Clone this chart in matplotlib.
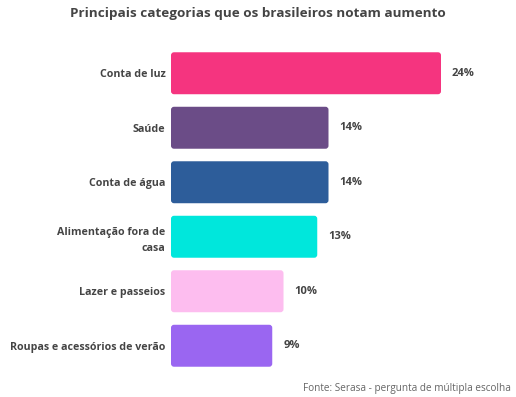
import matplotlib
matplotlib.use("Agg")
from matplotlib import pyplot as plt
from matplotlib.patches import FancyBboxPatch

plt.rcParams['font.family'] = ['Open Sans', 'DejaVu Sans']

# data
categories = [
    "Conta de luz",
    "Saúde",
    "Conta de água",
    "Alimentação fora de\ncasa",
    "Lazer e passeios",
    "Roupas e acessórios de verão",
]
values = [24, 14, 14, 13, 10, 9]
colors = ["#F5347F", "#6B4C87", "#2D5D9A", "#00E7DC", "#FDBDEF", "#9A66F1"]

W, H = 516, 397
fig = plt.figure(figsize=(W / 100, H / 100), dpi=100)
ax = fig.add_axes([171 / W, 1 - 373 / H, 345 / W, 327 / H])

px_x = 11.25  # pixels per percent
xmax = 345 / px_x
ax.set_xlim(0, xmax)
ax.set_ylim(len(categories) - 0.5, -0.5)

bars = ax.barh(range(len(categories)), values, height=0.77, color=colors)

# rounded corners
rx = 3 / px_x
ry = 3 / 54.6
for b in bars:
    b.set_visible(False)
    fp = FancyBboxPatch((b.get_x(), b.get_y()), b.get_width(), b.get_height(),
                        boxstyle=f"round,pad=0,rounding_size={rx}",
                        mutation_aspect=ry / rx,
                        facecolor=b.get_facecolor(), edgecolor="none")
    ax.add_patch(fp)

for i, v in enumerate(values):
    ax.text(v + 11 / px_x, i, f"{v}%", va="center", ha="left",
            fontsize=8, fontweight="bold", color="#444444")

ax.set_yticks(range(len(categories)))
ax.set_yticklabels(categories, fontsize=7.65, fontweight="bold", color="#444444",
                   linespacing=1.55)
ax.tick_params(axis="y", length=0, pad=4)
ax.set_xticks([])
for s in ax.spines.values():
    s.set_visible(False)

fig.text(258 / W, 1 - 14 / H, "Principais categorias que os brasileiros notam aumento",
         ha="center", va="center", fontsize=9.7, fontweight="bold", color="#444444")
fig.text(511 / W, 1 - 388 / H, "Fonte: Serasa - pergunta de múltipla escolha",
         ha="right", va="center", fontsize=7.2, color="#666666")

fig.savefig("out.png", dpi=100)
